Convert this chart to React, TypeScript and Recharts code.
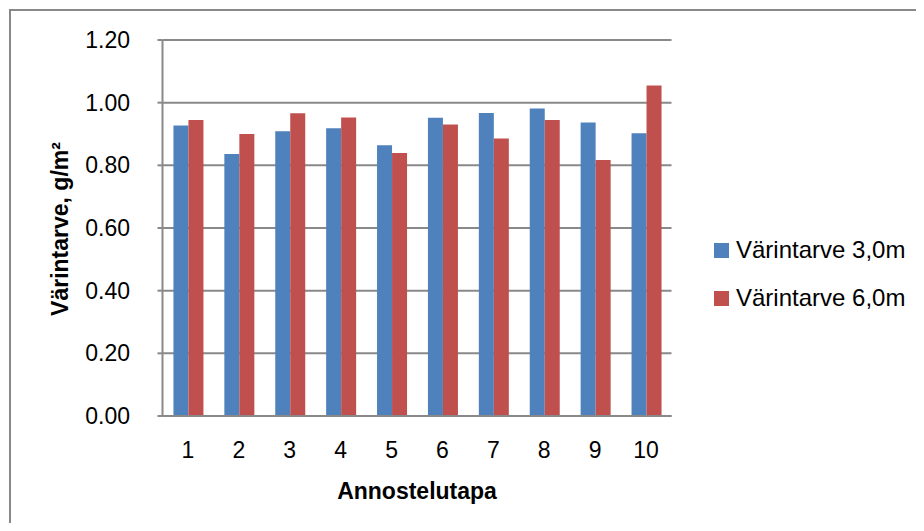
import { Bar, BarChart, CartesianGrid, Label, Legend, XAxis, YAxis } from "recharts";

const categories = ["1", "2", "3", "4", "5", "6", "7", "8", "9", "10"];
const need30 = [0.927, 0.836, 0.909, 0.918, 0.864, 0.952, 0.967, 0.981, 0.937, 0.902];
const need60 = [0.945, 0.9, 0.966, 0.953, 0.839, 0.93, 0.886, 0.945, 0.817, 1.055];
const yTicks = [0, 0.2, 0.4, 0.6, 0.8, 1.0, 1.2];

const data = categories.map((name, i) => ({
    name,
    need30: need30[i],
    need60: need60[i],
}));

const FONT = "'Liberation Sans', Arial, sans-serif";
const AXIS_GRAY = "#898989";

const LegendBox = ({ payload }: any) => (
    <div style={{ width: 200, fontFamily: FONT, fontSize: 24, color: "#000" }}>
        {(payload || []).map((entry: any) => (
            <div
                key={entry.value}
                style={{ display: "flex", alignItems: "center", height: 24, marginBottom: 24 }}
            >
                <span style={{ width: 15, height: 15, background: entry.color, marginRight: 7 }} />
                <span style={{ whiteSpace: "nowrap" }}>{entry.value}</span>
            </div>
        ))}
    </div>
);

const App = () => {
    return (
        <div style={{ position: "relative", width: 916, height: 515, overflow: "hidden", background: "#fff" }}>
            <div
                style={{
                    position: "absolute",
                    left: 1,
                    top: 1,
                    width: 2000,
                    height: 2000,
                    border: `2px solid ${AXIS_GRAY}`,
                }}
            />
            <BarChart
                width={916}
                height={515}
                data={data}
                margin={{ top: 32, right: 52.5, left: 0, bottom: 47 }}
                barCategoryGap="21.5%"
                barGap={0}
                style={{ fontFamily: FONT }}
            >
                <CartesianGrid vertical={false} stroke={AXIS_GRAY} strokeWidth={2} />
                <XAxis
                    dataKey="name"
                    height={60}
                    tickLine={false}
                    tickSize={0}
                    tickMargin={26}
                    axisLine={{ stroke: AXIS_GRAY, strokeWidth: 2 }}
                    tick={{ fill: "#000", fontSize: 23 }}
                >
                    <Label
                        content={({ viewBox }: any) => (
                            <text
                                x={viewBox.x + viewBox.width / 2}
                                y={491}
                                textAnchor="middle"
                                fontSize={23}
                                fontWeight="bold"
                                fill="#000"
                            >
                                Annostelutapa
                            </text>
                        )}
                    />
                </XAxis>
                <YAxis
                    width={154.5}
                    domain={[0, 1.2]}
                    ticks={yTicks}
                    interval={0}
                    tickFormatter={(v: number) => v.toFixed(2)}
                    tickSize={5}
                    tickMargin={27.5}
                    tickLine={{ stroke: AXIS_GRAY, strokeWidth: 2 }}
                    axisLine={{ stroke: AXIS_GRAY, strokeWidth: 2 }}
                    tick={{ fill: "#000", fontSize: 23 }}
                >
                    <Label
                        content={({ viewBox }: any) => {
                            const cx = 60;
                            const cy = viewBox.y + viewBox.height / 2 + 1;
                            return (
                                <text
                                    x={cx}
                                    y={cy}
                                    transform={`rotate(-90, ${cx}, ${cy})`}
                                    textAnchor="middle"
                                    fontSize={23}
                                    fontWeight="bold"
                                    fill="#000"
                                >
                                    Värintarve, g/m²
                                </text>
                            );
                        }}
                    />
                </YAxis>
                <Legend
                    layout="vertical"
                    align="right"
                    verticalAlign="middle"
                    content={<LegendBox />}
                    wrapperStyle={{ left: 706, top: 230, width: 200 }}
                />
                <Bar dataKey="need30" name="Värintarve 3,0m" fill="#4F81BD" isAnimationActive={false} />
                <Bar dataKey="need60" name="Värintarve 6,0m" fill="#C0504D" isAnimationActive={false} />
            </BarChart>
        </div>
    );
};

export default App;
